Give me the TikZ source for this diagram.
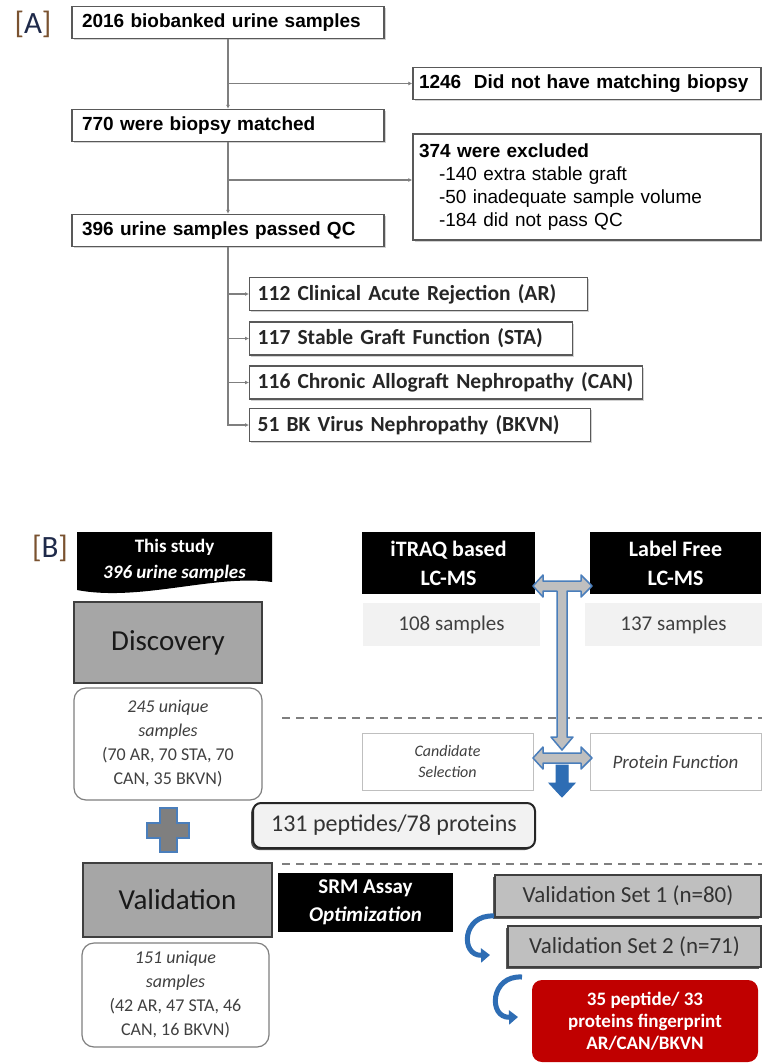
\documentclass[tikz,border=0pt]{standalone}
\usepackage{fontspec}
\setmainfont{Carlito}
\newfontfamily\arialfont{Liberation Sans}
\usepackage{tikz}
\usetikzlibrary{arrows.meta, positioning, calc, shadows}
\definecolor{edge}{HTML}{595959}
\definecolor{wire}{HTML}{7F7F7F}
\definecolor{phasegray}{HTML}{A6A6A6}
\definecolor{darkline}{HTML}{3F3F3F}
\definecolor{pale}{HTML}{F2F2F2}
\definecolor{setgray}{HTML}{BFBFBF}
\definecolor{arrowblue}{HTML}{4A7EBB}
\definecolor{deepblue}{HTML}{2E6DB4}
\definecolor{crimson}{HTML}{C00000}
\definecolor{inkgray}{HTML}{404040}
\definecolor{bracket}{HTML}{7A5230}
\definecolor{navy}{HTML}{1F2A4A}
\newcommand{\fsz}[2]{\fontsize{#1}{#2}\selectfont}

\begin{document}
\begin{tikzpicture}[x=1pt, y=-1pt,
    flowbox/.style={rectangle, draw=edge, line width=1.4pt, fill=white, font=\arialfont\bfseries\fsz{19}{23}, align=left, inner xsep=10pt, minimum height=32pt, drop shadow={shadow xshift=1.5pt, shadow yshift=-1.5pt, opacity=0.35}},
    classbox/.style={rectangle, draw=edge, line width=1.4pt, fill=white, font=\bfseries\fsz{21.5}{25}, text=black!85, anchor=west, align=left, inner xsep=8pt, minimum height=33pt, drop shadow={shadow xshift=1.5pt, shadow yshift=-1.5pt, opacity=0.35}},
    link/.style={draw=wire, line width=1.2pt, -{Latex[length=4pt,width=4pt]}},
    phase/.style={rectangle, draw=darkline, line width=2pt, fill=phasegray, text=black!90, font=\fsz{29}{34}, minimum width=188pt},
    sampbox/.style={rectangle, rounded corners=12pt, draw=wire, line width=1.2pt, fill=white, text=inkgray, align=center, font=\fsz{18}{24}, minimum width=188pt},
    blackbox/.style={rectangle, fill=black, text=white, align=center, font=\bfseries\fsz{22}{29}},
    palebox/.style={rectangle, fill=pale, text=inkgray, font=\fsz{21}{25}, minimum width=177pt, minimum height=43pt},
    candbox/.style={rectangle, draw=setgray, line width=1pt, fill=white, text=inkgray, align=center, font=\itshape\fsz{16}{21}, minimum width=171pt, minimum height=57pt},
    setbox/.style={rectangle, draw=darkline, line width=1.5pt, fill=setgray, text=black!80, font=\fsz{23}{26}, drop shadow={shadow xshift=-2pt, shadow yshift=-2pt, opacity=0.8, fill=black!80}},
    blockarrow/.style={fill=setgray, draw=arrowblue, line width=1.5pt, line join=round},
    uturn/.style={draw=deepblue, line width=5pt, -{Triangle[length=9pt,width=14pt]}},
    sepline/.style={draw=wire, line width=2pt, dash pattern=on 8pt off 6pt},
  ]
  \fill[white] (0,0) rectangle (762,1063);
  \useasboundingbox (0,0) rectangle (762,1063);

  % [A] sample selection
  \node[font=\fsz{31}{32}] (tagA) at (33,24) {\textcolor{bracket}{[}\textcolor{navy}{A}\textcolor{bracket}{]}};
  \node[flowbox, text width=292pt] (bio) at (228,22.5) {2016 biobanked urine samples};
  \node[flowbox, text width=292pt] (matched) at (228,125.5) {770 were biopsy matched};
  \node[flowbox, text width=292pt] (passed) at (228,230.5) {396 urine samples passed QC};
  \node[flowbox, inner xsep=6pt, text width=336pt] (nomatch) at (587,83.5) {1246\ \ Did not have matching biopsy};
  \node[flowbox, inner xsep=6pt, text width=336pt, minimum height=106pt] (excl) at (587,187) {374 were excluded\\
    \mdseries\hspace*{20pt}-140 extra stable graft\\
    \mdseries\hspace*{20pt}-50 inadequate sample volume\\
    \mdseries\hspace*{20pt}-184 did not pass QC};

  \node[classbox, text width=322pt] (ar) at (249,294) {112 Clinical Acute Rejection (AR)};
  \node[classbox, text width=307pt] (sta) at (249,338.5) {117 Stable Graft Function (STA)};
  \node[classbox, text width=377pt] (can) at (249,382.5) {116 Chronic Allograft Nephropathy (CAN)};
  \node[classbox, text width=325pt] (bkvn) at (249,425) {51 BK Virus Nephropathy (BKVN)};

  \draw[link] (bio) -- (matched);
  \draw[link] (bio.south |- nomatch.west) -- (nomatch.west);
  \draw[link] (matched) -- (passed);
  \coordinate (exbranch) at (228,180);
  \draw[link] (exbranch) -- (exbranch -| excl.west);
  \draw[link] (passed.south) |- (bkvn.west);
  \foreach \grp in {ar, sta, can}
    \draw[link] (passed.south |- \grp.west) -- (\grp.west);

  % [B] study design
  \node[font=\fsz{31}{32}] (tagB) at (50,548) {\textcolor{bracket}{[}\textcolor{navy}{B}\textcolor{bracket}{]}};
  \fill[black] (77,532) -- (272,532) -- (272,582) .. controls (215,574) and (140,602) .. (77,590) -- cycle;
  \node[text=white, align=center, font=\bfseries\fsz{19}{26}] (study) at (174.5,560) {This study\\\itshape 396 urine samples};
  \node[phase, minimum height=81pt] (disc) at (168,642.5) {Discovery};
  \node[sampbox, minimum height=112pt] (discset) at (168,744) {\textit{245 unique}\\\textit{samples}\\(70 AR, 70 STA, 70\\CAN, 35 BKVN)};
  \filldraw[fill=wire, draw=arrowblue, line width=1.5pt] (160,808) -- (177,808) -- (177,823) -- (189,823) -- (189,838) -- (177,838)
    -- (177,852) -- (160,852) -- (160,838) -- (147,838) -- (147,823) -- (160,823) -- cycle;
  \node[phase, minimum width=189pt, minimum height=74pt] (valid) at (177.5,900) {Validation};
  \node[sampbox, minimum width=187pt, minimum height=104pt] (validset) at (175.5,995) {\textit{151 unique}\\\textit{samples}\\(42 AR, 47 STA, 46\\CAN, 16 BKVN)};

  \draw[sepline] (282,718) -- (762,718);
  \draw[sepline] (282,864) -- (762,864);

  \node[blackbox, minimum width=173pt, minimum height=62pt] (itraq) at (448.5,563) {iTRAQ based\\LC-MS};
  \node[blackbox, minimum width=171pt, minimum height=62pt] (lfree) at (675.5,563) {Label Free\\LC-MS};
  \node[palebox] (n108) at (451.5,624.5) {108 samples};
  \node[palebox] (n137) at (673.5,624.5) {137 samples};
  \node[candbox] (cand) at (447.5,761.5) {Candidate\\Selection};
  \node[candbox, font=\itshape\fsz{19}{22}] (protfn) at (675.5,761.5) {Protein Function};
  \node[rectangle, rounded corners=8pt, draw=black!85, line width=2pt, fill=pale, text=black!80, font=\fsz{24}{28},
    minimum width=282pt, minimum height=45pt, drop shadow={shadow xshift=-2pt, shadow yshift=-2pt, opacity=0.7, fill=black}] (pept) at (394,825.5) {131 peptides/78 proteins};

  \filldraw[blockarrow] (533,586) -- (543,575) -- (543,581) -- (581,581) -- (581,575) -- (592,586) -- (581,597) -- (581,591)
    -- (567,591) -- (567,737) -- (573,737) -- (562,750) -- (551,737) -- (557,737) -- (557,591) -- (543,591) -- (543,597) -- cycle;
  \filldraw[blockarrow] (533,758) -- (543,747) -- (543,753) -- (581,753) -- (581,747) -- (592,758) -- (581,769) -- (581,763)
    -- (543,763) -- (543,769) -- cycle;
  \filldraw[fill=deepblue, draw=deepblue, line width=1pt] (556,765) -- (568,765) -- (568,783) -- (575,783) -- (562,797)
    -- (549,783) -- (556,783) -- cycle;

  \node[blackbox, minimum width=175pt, minimum height=59pt, font=\bfseries\fsz{21}{28}] (srm) at (365.5,902.5) {SRM Assay\\\textit{Optimization}};
  \node[setbox, minimum width=266pt, minimum height=42pt] (vs1) at (628,896) {Validation Set 1 (n=80)};
  \node[setbox, minimum width=253pt, minimum height=41pt] (vs2) at (634.5,946.5) {Validation Set 2 (n=71)};
  \node[rectangle, rounded corners=10pt, fill=crimson, text=white, align=center, font=\bfseries\fsz{19}{22},
    minimum width=226pt, minimum height=82pt] (finger) at (645,1021) {35 peptide/ 33\\proteins fingerprint\\AR/CAN/BKVN};

  \coordinate (turnA) at (494,916);
  \coordinate (turnB) at (490,955);
  \coordinate (turnC) at (522,977);
  \coordinate (turnD) at (518,1017);
  \draw[uturn] (turnA) .. controls (462,914) and (460,956) .. (turnB);
  \draw[uturn] (turnC) .. controls (490,975) and (488,1018) .. (turnD);
\end{tikzpicture}
\end{document}
